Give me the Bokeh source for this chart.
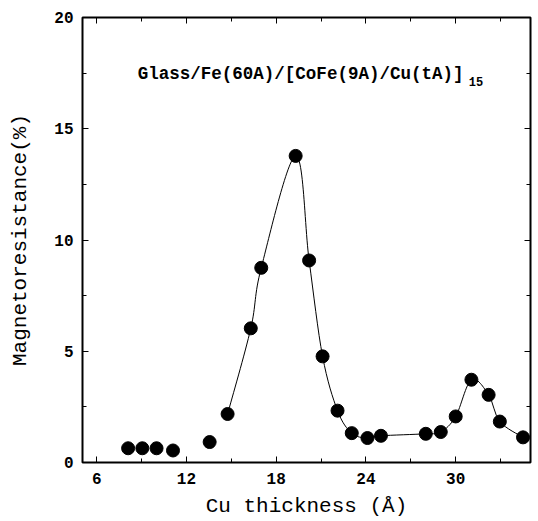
from bokeh.plotting import figure
from bokeh.models import LinearAxis, FixedTicker, Range1d, Label, ColumnDataSource
from bokeh.embed import file_html
from bokeh.resources import INLINE

# ---- data ----
cu_thickness = [8.1, 9.05, 10.0, 11.1, 13.55, 14.75, 16.3, 17.0, 19.3, 20.2,
                21.1, 22.1, 23.05, 24.1, 25.0, 28.0, 29.0, 30.0, 31.05, 32.2,
                32.95, 34.5]
mr_percent = [0.64, 0.64, 0.64, 0.54, 0.92, 2.18, 6.03, 8.75, 13.78, 9.08,
              4.77, 2.33, 1.32, 1.1, 1.2, 1.29, 1.37, 2.07, 3.72, 3.04,
              1.84, 1.13]
curve_start = 5  # the guide curve starts at the 14.75 A point

x_major = [6, 12, 18, 24, 30]
x_minor = [9, 15, 21, 27, 33]
y_major = [0, 5, 10, 15, 20]
y_minor = [2.5, 7.5, 12.5, 17.5]

MONO = "Liberation Mono"

p = figure(width=538, height=521, output_backend="svg", toolbar_location=None,
           x_range=Range1d(5.05, 35.0), y_range=Range1d(0, 20),
           x_axis_label="Cu thickness (\u00c5)", y_axis_label="Magnetoresistance(%)",
           min_border_left=82, min_border_right=8, min_border_top=17, min_border_bottom=59)
p.grid.visible = False
p.background_fill_color = "white"
p.border_fill_color = "white"
p.outline_line_color = "black"
p.outline_line_width = 2

xt = FixedTicker(ticks=x_major, minor_ticks=x_minor)
yt = FixedTicker(ticks=y_major, minor_ticks=y_minor)

def style(ax, labels=True):
    ax.axis_line_color = None
    ax.major_tick_in = 6
    ax.major_tick_out = 0
    ax.minor_tick_in = 4
    ax.minor_tick_out = 0
    ax.major_tick_line_color = "black"
    ax.minor_tick_line_color = "black"
    ax.major_tick_line_width = 1
    if labels:
        ax.major_label_text_font = MONO
        ax.major_label_text_font_style = "bold"
        ax.major_label_text_font_size = "16px"
        ax.major_label_text_color = "black"
        ax.axis_label_text_font = MONO
        ax.axis_label_text_font_style = "normal"
        ax.axis_label_text_font_size = "21px"
        ax.axis_label_text_color = "black"
    else:
        ax.major_label_text_font_size = "0px"
        ax.major_label_text_color = None

p.xaxis.ticker = xt
p.yaxis.ticker = yt
style(p.xaxis[0])
style(p.yaxis[0])
p.xaxis.major_label_standoff = 10
p.xaxis.axis_label_standoff = 8
p.yaxis.major_label_standoff = 9
p.yaxis.axis_label_standoff = 19

top = LinearAxis(ticker=xt)
style(top, labels=False)
right = LinearAxis(ticker=yt)
style(right, labels=False)
p.add_layout(top, "above")
p.add_layout(right, "right")

# smooth guide curve through the data (Catmull-Rom -> cubic Bezier)
cx = cu_thickness[curve_start:]
cy = mr_percent[curve_start:]
n = len(cx)
x0, y0, x1, y1, c0x, c0y, c1x, c1y = [], [], [], [], [], [], [], []
for i in range(n - 1):
    im = max(i - 1, 0)
    ip2 = min(i + 2, n - 1)
    x0.append(cx[i]); y0.append(cy[i])
    x1.append(cx[i + 1]); y1.append(cy[i + 1])
    c0x.append(cx[i] + (cx[i + 1] - cx[im]) / 6.0)
    c0y.append(cy[i] + (cy[i + 1] - cy[im]) / 6.0)
    c1x.append(cx[i + 1] - (cx[ip2] - cx[i]) / 6.0)
    c1y.append(cy[i + 1] - (cy[ip2] - cy[i]) / 6.0)
bsrc = ColumnDataSource(dict(x0=x0, y0=y0, x1=x1, y1=y1, cx0=c0x, cy0=c0y, cx1=c1x, cy1=c1y))
p.bezier(x0="x0", y0="y0", x1="x1", y1="y1", cx0="cx0", cy0="cy0", cx1="cx1", cy1="cy1",
         source=bsrc, line_color="black", line_width=1)

p.scatter(cu_thickness, mr_percent, size=13, fill_color="black", line_color="black")

title_text = "Glass/Fe(60A)/[CoFe(9A)/Cu(tA)]"
p.add_layout(Label(x=8.75, y=17.45, text=title_text, text_font=MONO, text_font_style="bold",
                   text_font_size="17.5px", text_baseline="middle", text_color="black"))
p.add_layout(Label(x=8.75, y=17.45, x_offset=331, y_offset=-7, text="15", text_font=MONO,
                   text_font_style="bold", text_font_size="12px", text_baseline="middle",
                   text_color="black"))

open("out.html", "w").write(file_html(p, INLINE))
